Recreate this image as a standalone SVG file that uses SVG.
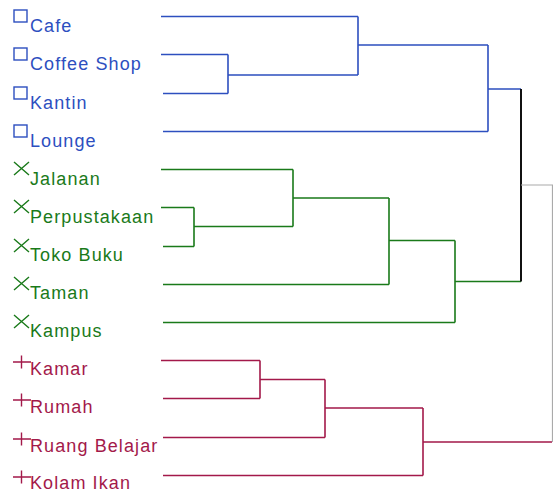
<svg xmlns="http://www.w3.org/2000/svg" width="553" height="493" viewBox="0 0 553 493">
<style>
text{font-family:"Liberation Sans",Arial,sans-serif;font-size:18px;letter-spacing:1.1px}
.b{fill:#2d4fbf}.g{fill:#1a7a1a}.r{fill:#a3194a}
.bs{stroke:#2d4fbf}.gs{stroke:#1a7a1a}.rs{stroke:#a3194a}
.m{fill:none;stroke-width:1.4}
.c{fill:none;stroke-width:1.6}
</style>
<defs>
<rect id="sq" x="-6.5" y="-6" width="13" height="12"/>
<path id="xx" d="M-7.5 -6.5L7.5 6.5M-7.5 6.5L7.5 -6.5"/>
<path id="pl" d="M-8.5 0H9.5M0 -6.5V6.5"/>
</defs>
<g id="connectors">
<g class="c bs">
<path d="M161 16.5H358M161 54.5H228M163 93.5H228M228 54.5V93.5M228 75H358M358 16.5V75M358 45H488M163 131.5H488M488 45V131.5M488 89H521"/>
</g>
<g class="c gs">
<path d="M161 169.5H293M161 207.5H194M163 246.5H194M194 207.5V246.5M194 226.5H293M293 169.5V226.5M293 198H389M163 284.5H389M389 198V284.5M389 240.5H455M163 322.5H455M455 240.5V322.5M455 281.5H521"/>
</g>
<g class="c rs">
<path d="M161 360.5H260M163 398.5H260M260 360.5V398.5M260 379.5H325M163 437.5H325M325 379.5V437.5M325 408H423M163 475.5H423M423 408V475.5M423 442H552"/>
</g>
<path d="M521 89V281.5" fill="none" stroke="#111" stroke-width="2"/>
<path d="M521 185H552.5V442" fill="none" stroke="#aaa" stroke-width="1.2"/>
</g>
<g id="n-cafe"><use href="#sq" x="20.5" y="16" class="m bs"/><text x="30" y="32" class="b">Cafe</text></g>
<g id="n-coffee"><use href="#sq" x="20.5" y="54" class="m bs"/><text x="30" y="70" class="b">Coffee Shop</text></g>
<g id="n-kantin"><use href="#sq" x="20.5" y="93" class="m bs"/><text x="30" y="109" class="b">Kantin</text></g>
<g id="n-lounge"><use href="#sq" x="20.5" y="131" class="m bs"/><text x="30" y="147" class="b">Lounge</text></g>
<g id="n-jalanan"><use href="#xx" x="21.5" y="168.5" class="m gs"/><text x="30" y="185" class="g">Jalanan</text></g>
<g id="n-perpus"><use href="#xx" x="21.5" y="206.5" class="m gs"/><text x="30" y="223" class="g">Perpustakaan</text></g>
<g id="n-toko"><use href="#xx" x="21.5" y="245.5" class="m gs"/><text x="30" y="261" class="g">Toko Buku</text></g>
<g id="n-taman"><use href="#xx" x="21.5" y="283.5" class="m gs"/><text x="30" y="299" class="g">Taman</text></g>
<g id="n-kampus"><use href="#xx" x="21.5" y="321.5" class="m gs"/><text x="30" y="337" class="g">Kampus</text></g>
<g id="n-kamar"><use href="#pl" x="21.5" y="362" class="m rs"/><text x="30" y="375" class="r">Kamar</text></g>
<g id="n-rumah"><use href="#pl" x="21.5" y="400" class="m rs"/><text x="30" y="413" class="r">Rumah</text></g>
<g id="n-ruang"><use href="#pl" x="21.5" y="439" class="m rs"/><text x="30" y="452" class="r">Ruang Belajar</text></g>
<g id="n-kolam"><use href="#pl" x="21.5" y="477" class="m rs"/><text x="30" y="489" class="r">Kolam Ikan</text></g>
</svg>
